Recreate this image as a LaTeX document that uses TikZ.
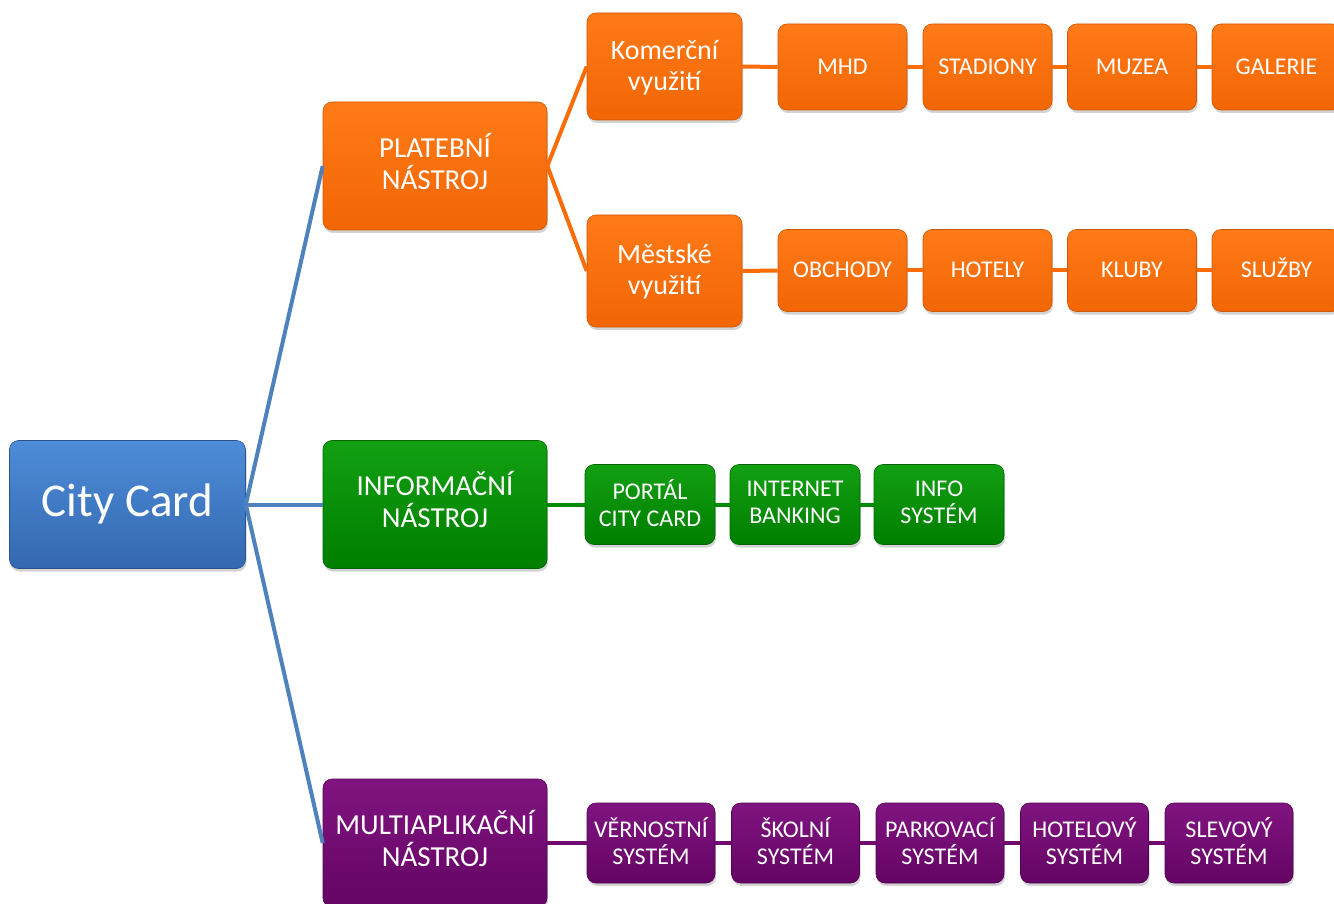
\documentclass[tikz,border=0pt]{standalone}
\usepackage{fontspec}
\setmainfont{Carlito}
\usetikzlibrary{shadows}
\definecolor{bluetop}{RGB}{78,140,216}
\definecolor{bluebot}{RGB}{52,104,176}
\definecolor{blueline}{RGB}{79,129,189}
\definecolor{orangetop}{RGB}{255,122,24}
\definecolor{orangebot}{RGB}{242,102,4}
\definecolor{orangeline}{RGB}{249,108,8}
\definecolor{greentop}{RGB}{18,160,18}
\definecolor{greenbot}{RGB}{0,126,0}
\definecolor{greenline}{RGB}{0,140,0}
\definecolor{purpletop}{RGB}{128,20,128}
\definecolor{purplebot}{RGB}{100,4,100}
\definecolor{purpleline}{RGB}{112,8,112}
\tikzset{
  box/.style={rounded corners=9pt, text=white, align=center, inner sep=0pt,
    drop shadow={shadow xshift=1pt, shadow yshift=-3pt, opacity=0.35}},
  bluebox/.style={box, top color=bluetop, bottom color=bluebot, draw=bluebot!80!black, line width=0.6pt},
  orangebox/.style={box, top color=orangetop, bottom color=orangebot, draw=orangebot!85!black, line width=0.6pt},
  greenbox/.style={box, top color=greentop, bottom color=greenbot, draw=greenbot!80!black, line width=0.6pt},
  purplebox/.style={box, top color=purpletop, bottom color=purplebot, draw=purplebot!80!black, line width=0.6pt},
  mainsize/.style={minimum width=224pt, minimum height=128pt, font=\fontsize{29}{32}\selectfont, text depth=10pt},
  midsize/.style={minimum width=155pt, font=\fontsize{28}{31}\selectfont, text depth=3pt},
  leafsize/.style={minimum width=129pt, font=\fontsize{24}{27}\selectfont},
  twoline/.style={text depth=4pt},
  oneline/.style={text height=19pt, text depth=4pt},
  bline/.style={draw=blueline, line width=4pt},
  oline/.style={draw=orangeline, line width=4pt},
  gline/.style={draw=greenline, line width=4pt},
  pline/.style={draw=purpleline, line width=4pt},
}
\begin{document}
\begin{tikzpicture}[x=1pt,y=-1pt]
\useasboundingbox (0,0) rectangle (1334,904);
\begin{scope}
\clip (0,0) rectangle (1334,904);
% root
\node[bluebox, minimum width=236pt, minimum height=128pt, font=\fontsize{47}{52}\selectfont, text height=33pt, text depth=9pt] (cc) at (127.5,504.5) {City Card};
% main
\node[orangebox, mainsize] (plat) at (435,166) {PLATEBNÍ\\NÁSTROJ};
\node[greenbox, mainsize] (info) at (435,504.5) {INFORMAČNÍ\\NÁSTROJ};
\node[purplebox, mainsize] (multi) at (435,843) {MULTIAPLIKAČNÍ\\NÁSTROJ};
% orange mid
\node[orangebox, midsize, minimum height=107pt] (kom) at (664.5,66.5) {Komerční\\využití};
\node[orangebox, midsize, minimum height=112pt] (mest) at (664.5,271) {Městské\\využití};
% orange leaves
\node[orangebox, leafsize, oneline, minimum height=86pt] (mhd) at (842.5,67) {MHD};
\node[orangebox, leafsize, oneline, minimum height=86pt] (stad) at (987.5,67) {STADIONY};
\node[orangebox, leafsize, oneline, minimum height=86pt] (muz) at (1132,67) {MUZEA};
\node[orangebox, leafsize, oneline, minimum height=86pt] (gal) at (1276.5,67) {GALERIE};
\node[orangebox, leafsize, oneline, minimum height=82pt] (obch) at (842.5,270.5) {OBCHODY};
\node[orangebox, leafsize, oneline, minimum height=82pt] (hot) at (987.5,270.5) {HOTELY};
\node[orangebox, leafsize, oneline, minimum height=82pt] (klub) at (1132,270.5) {KLUBY};
\node[orangebox, leafsize, oneline, minimum height=82pt] (sluz) at (1276.5,270.5) {SLUŽBY};
% green leaves
\node[greenbox, leafsize, twoline, minimum width=130pt, minimum height=80pt] (port) at (650,504.5) {PORTÁL\\CITY CARD};
\node[greenbox, leafsize, twoline, minimum width=130pt, minimum height=80pt] (inet) at (795,504.5) {INTERNET\\BANKING};
\node[greenbox, leafsize, twoline, minimum width=130pt, minimum height=80pt] (isys) at (939,504.5) {INFO\\SYSTÉM};
% purple leaves
\node[purplebox, leafsize, twoline, minimum width=128pt, minimum height=80pt] (vern) at (651,843) {VĚRNOSTNÍ\\SYSTÉM};
\node[purplebox, leafsize, twoline, minimum width=128pt, minimum height=80pt] (skol) at (795.5,843) {ŠKOLNÍ\\SYSTÉM};
\node[purplebox, leafsize, twoline, minimum width=128pt, minimum height=80pt] (park) at (940,843) {PARKOVACÍ\\SYSTÉM};
\node[purplebox, leafsize, twoline, minimum width=128pt, minimum height=80pt] (hotsys) at (1084.5,843) {HOTELOVÝ\\SYSTÉM};
\node[purplebox, leafsize, twoline, minimum width=128pt, minimum height=80pt] (slev) at (1229,843) {SLEVOVÝ\\SYSTÉM};
% connectors
\draw[bline] (cc.east) -- (plat.west);
\draw[bline] (cc.east) -- (info.west);
\draw[bline] (cc.east) -- (multi.west);
\draw[oline] (plat.east) -- (kom.west);
\draw[oline] (plat.east) -- (mest.west);
\draw[oline] (kom.east) -- (mhd.west);
\draw[oline] (mhd.east) -- (stad.west);
\draw[oline] (stad.east) -- (muz.west);
\draw[oline] (muz.east) -- (gal.west);
\draw[oline] (mest.east) -- (obch.west);
\draw[oline] (obch.east) -- (hot.west);
\draw[oline] (hot.east) -- (klub.west);
\draw[oline] (klub.east) -- (sluz.west);
\draw[gline] (info.east) -- (port.west);
\draw[gline] (port.east) -- (inet.west);
\draw[gline] (inet.east) -- (isys.west);
\draw[pline] (multi.east) -- (vern.west);
\draw[pline] (vern.east) -- (skol.west);
\draw[pline] (skol.east) -- (park.west);
\draw[pline] (park.east) -- (hotsys.west);
\draw[pline] (hotsys.east) -- (slev.west);
\end{scope}
\end{tikzpicture}
\end{document}
